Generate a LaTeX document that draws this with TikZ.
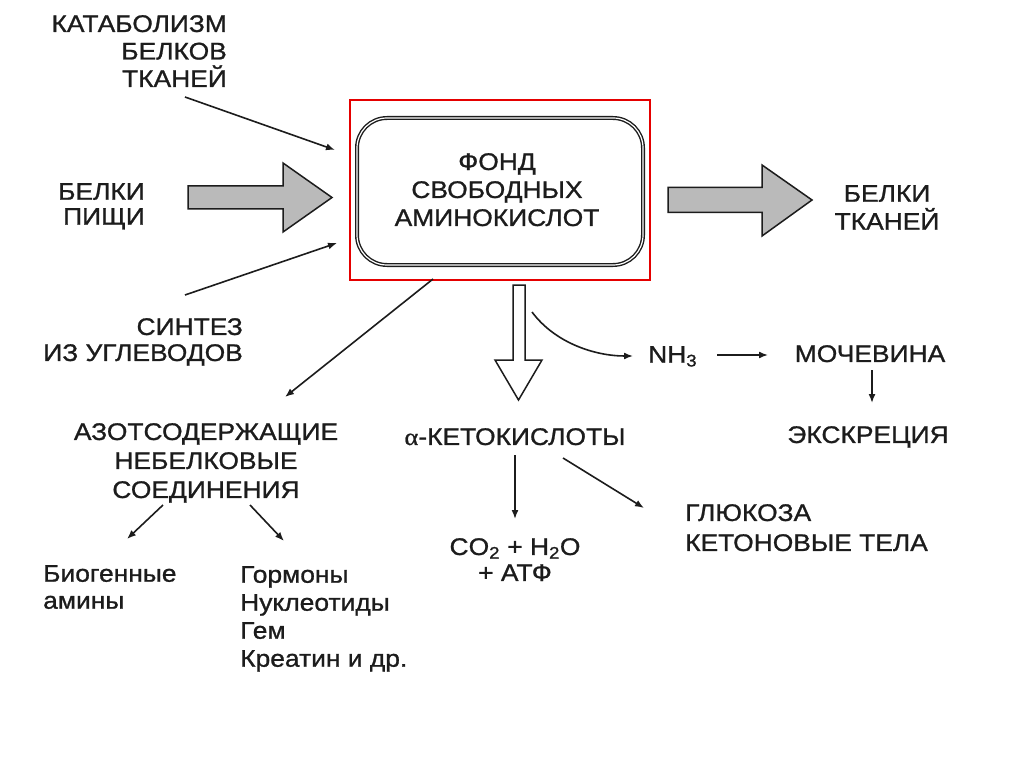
\documentclass[tikz,border=0pt]{standalone}
\usepackage{fontspec}
\setmainfont{Liberation Sans}[FakeStretch=1.1,FakeBold=1]
\newfontfamily\greekfont{Liberation Serif}[FakeStretch=1.1,FakeBold=1]
\usetikzlibrary{arrows.meta}
\definecolor{ink}{HTML}{1C1C1C}
\definecolor{fillgrey}{HTML}{BABABA}
\begin{document}
\begin{tikzpicture}[x=1pt,y=-1pt,
  lbl/.style={inner sep=0pt,text=ink,font=\fontsize{24}{28}\selectfont},
  conn/.style={draw=ink,line width=1.6pt,-{Latex[length=9pt,width=7pt]}},
  fatarrow/.style={draw=ink,line width=1.5pt,fill=fillgrey,line join=miter},
  hollowarrow/.style={draw=ink,line width=1.5pt,fill=white,line join=miter},
  fondbox/.style={draw=ink,double=white,double distance=1.2pt,line width=1.4pt,
    rounded corners=30pt,inner sep=0pt,minimum width=286pt,minimum height=147pt},
  frame/.style={draw=red!90!black,line width=2.2pt,inner sep=0pt,minimum width=300pt,minimum height=180pt}]
\useasboundingbox[fill=white] (0,0) rectangle (1024,767);

% central box
\node[frame] (frame) at (500,190) {};
\node[fondbox] (fond) at (500,191.5) {};
\node[lbl,align=center,anchor=north] (fondtxt) at (497,153)
  {ФОНД\\СВОБОДНЫХ\\АМИНОКИСЛОТ};

% inputs
\node[lbl,align=right,anchor=north east,font=\fontsize{24}{27.5}\selectfont] (kat) at (227,15)
  {КАТАБОЛИЗМ\\БЕЛКОВ\\ТКАНЕЙ};
\node[lbl,align=right,anchor=north east,font=\fontsize{24}{25}\selectfont] (pishi) at (145,183)
  {БЕЛКИ\\ПИЩИ};
\node[lbl,align=right,anchor=north east,font=\fontsize{24}{26}\selectfont] (sint) at (243,318)
  {СИНТЕЗ\\ИЗ УГЛЕВОДОВ};

% output
\node[lbl,align=center,anchor=north] (tkan) at (887,185) {БЕЛКИ\\ТКАНЕЙ};

% lower left
\node[lbl,align=center,anchor=north,font=\fontsize{24}{29}\selectfont] (azot) at (206,423)
  {АЗОТСОДЕРЖАЩИЕ\\НЕБЕЛКОВЫЕ\\СОЕДИНЕНИЯ};
\node[lbl,align=left,anchor=north west,font=\fontsize{24}{27}\selectfont] (biog) at (43,565)
  {Биогенные\\амины};
\node[lbl,align=left,anchor=north west,font=\fontsize{24}{28}\selectfont] (gorm) at (240,566)
  {Гормоны\\Нуклеотиды\\Гем\\Креатин и др.};

% middle
\node[lbl,anchor=north] (keto) at (515,428) {{\greekfont α}-КЕТОКИСЛОТЫ};
\node[lbl,align=center,anchor=north,font=\fontsize{24}{26}\selectfont] (co2) at (515,538)
  {CO\textsubscript{2} + H\textsubscript{2}O\\+ АТФ};
\node[lbl,align=left,anchor=north west,font=\fontsize{24}{30}\selectfont] (gluk) at (685,504)
  {ГЛЮКОЗА\\КЕТОНОВЫЕ ТЕЛА};

% right
\node[lbl,anchor=north west] (nh3) at (648,346) {NH\textsubscript{3}};
\node[lbl,anchor=north] (moch) at (870,345) {МОЧЕВИНА};
\node[lbl,anchor=north] (ekskr) at (868,426) {ЭКСКРЕЦИЯ};

% coordinates of free ends
\coordinate (k1) at (185,97);
\coordinate (k2) at (335,150);
\coordinate (s1) at (185,295);
\coordinate (s2) at (337,243);
\coordinate (f1) at (433,279);
\coordinate (f2) at (285,397);
\coordinate (c1) at (532,312);
\coordinate (c2) at (633,356);

% thin connectors
\draw[conn] (k1) -- (k2);
\draw[conn] (s1) -- (s2);
\draw[conn] (f1) -- (f2);
\draw[conn] (c1) .. controls (555,343) and (595,356) .. (c2);
\draw[conn] (717,355) -- (768,355);
\draw[conn] (872,370) -- (872,403);
\draw[conn] (515,455) -- (515,519);
\draw[conn] (563,458) -- (644,508);
\draw[conn] (163,505) -- (127,539);
\draw[conn] (250,505) -- (284,541);

% fat grey arrows
\draw[fatarrow] (188,186) -- (283,186) -- (283,163) -- (332,197.5) -- (283,232) -- (283,209) -- (188,209) -- cycle;
\draw[fatarrow] (668,187.5) -- (762,187.5) -- (762,165) -- (812,200) -- (762,236) -- (762,212.5) -- (668,212.5) -- cycle;

% hollow down arrow
\draw[hollowarrow] (513,285) -- (525,285) -- (525,360) -- (542,360) -- (518.5,400) -- (495,360) -- (513,360) -- cycle;
\end{tikzpicture}
\end{document}
